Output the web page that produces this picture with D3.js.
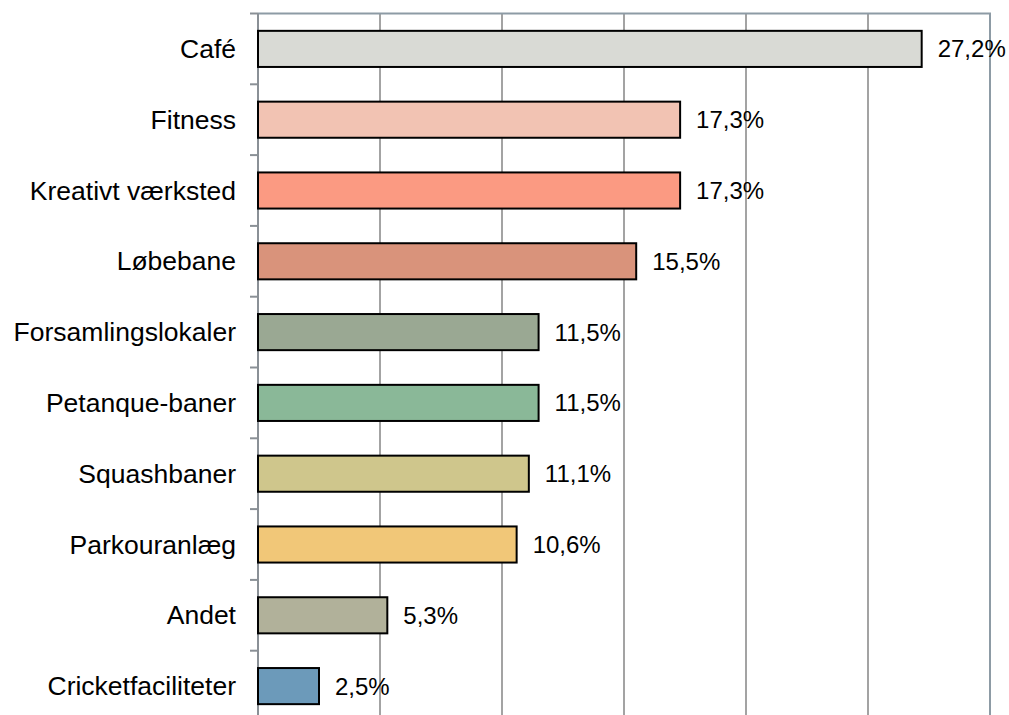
<!DOCTYPE html>
<html>
<head>
<meta charset="utf-8">
<script src="https://cdn.jsdelivr.net/npm/d3@7"></script>
<style>
  html, body { margin: 0; padding: 0; background: #fff; }
  svg { display: block; }
  text { font-family: "Liberation Sans", Arial, sans-serif; fill: #000; }
</style>
</head>
<body>
<svg id="chart" width="1009" height="715"></svg>
<script>
// Andel der ønsker hver facilitet (%)
const categories = ["Café", "Fitness", "Kreativt værksted", "Løbebane", "Forsamlingslokaler",
  "Petanque-baner", "Squashbaner", "Parkouranlæg", "Andet", "Cricketfaciliteter"];
const values = [27.2, 17.3, 17.3, 15.5, 11.5, 11.5, 11.1, 10.6, 5.3, 2.5];
const colors = ["#d9dad5", "#f2c3b3", "#fb9a82", "#d9937b", "#9aa893", "#8ab898",
  "#cfc68c", "#f1c778", "#b1b19a", "#6c9aba"];
const xTicks = [0, 5, 10, 15, 20, 25, 30];

const svg = d3.select("#chart");
const m = { left: 258, right: 990, top: 13.5, bottom: 721.5 };

const x = d3.scaleLinear().domain([0, 30]).range([m.left, m.right]);
const y = d3.scaleBand().domain(categories).range([m.top, m.bottom])
  .paddingInner(0.49).paddingOuter(0.245);

// vertical gridlines
svg.append("g").selectAll("line").data(xTicks.slice(1, -1)).join("line")
  .attr("x1", d => x(d)).attr("x2", d => x(d))
  .attr("y1", m.top).attr("y2", m.bottom)
  .attr("stroke", "#a3a3a3").attr("stroke-width", 2);

// plot border (top and right)
svg.append("path")
  .attr("d", `M${m.left},${m.top}H${m.right}V${m.bottom}`)
  .attr("fill", "none").attr("stroke", "#8d9ba5").attr("stroke-width", 2);

// category axis on the left
const step = y.step();
const boundaries = d3.range(categories.length + 1).map(i => m.top + i * step);
const yAxis = svg.append("g");
yAxis.append("line")
  .attr("x1", m.left).attr("x2", m.left)
  .attr("y1", m.top).attr("y2", m.bottom)
  .attr("stroke", "#8a9096").attr("stroke-width", 2);
yAxis.selectAll("line.tick").data(boundaries).join("line")
  .attr("class", "tick")
  .attr("x1", m.left - 8).attr("x2", m.left)
  .attr("y1", d => d).attr("y2", d => d)
  .attr("stroke", "#8a9096").attr("stroke-width", 2);

// bars
svg.append("g").selectAll("rect").data(categories).join("rect")
  .attr("x", m.left)
  .attr("y", d => y(d))
  .attr("width", (d, i) => x(values[i]) - m.left)
  .attr("height", y.bandwidth())
  .attr("fill", (d, i) => colors[i])
  .attr("stroke", "#000").attr("stroke-width", 2);

// category labels
svg.append("g").selectAll("text").data(categories).join("text")
  .attr("x", m.left - 22)
  .attr("y", d => y(d) + y.bandwidth() / 2)
  .attr("text-anchor", "end")
  .attr("dominant-baseline", "central")
  .style("font-size", "26.5px")
  .text(d => d);

// value labels
const fmt = v => v.toFixed(1).replace(".", ",") + "%";
svg.append("g").selectAll("text").data(categories).join("text")
  .attr("x", (d, i) => x(values[i]) + 16)
  .attr("y", d => y(d) + y.bandwidth() / 2)
  .attr("dominant-baseline", "central")
  .style("font-size", "24px")
  .text((d, i) => fmt(values[i]));
</script>
</body>
</html>
